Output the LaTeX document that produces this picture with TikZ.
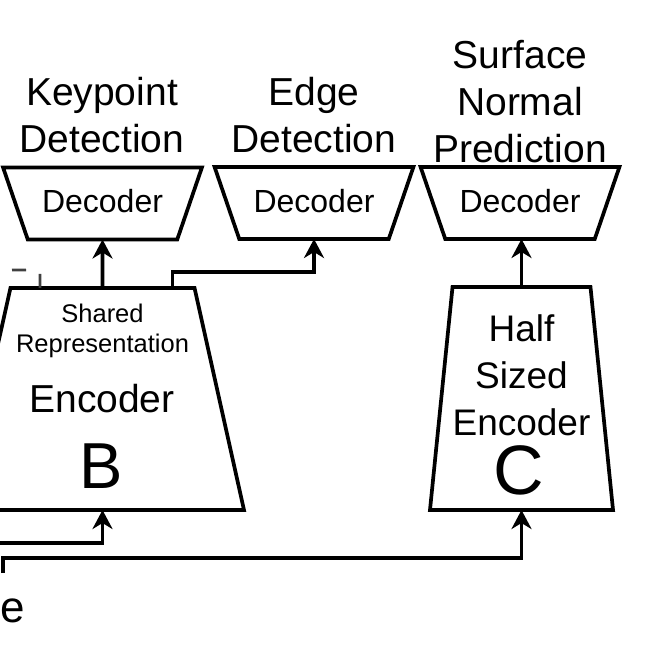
\documentclass[tikz,border=0pt]{standalone}
\usepackage{fontspec}
\setmainfont{Liberation Sans}
\usetikzlibrary{shapes.geometric,arrows.meta,calc}
\begin{document}
\begin{tikzpicture}[x=1pt,y=-1pt,
  shp/.style={draw=black, line width=3.7pt, line join=miter, trapezium,
    trapezium stretches=true, inner sep=0pt, outer sep=0pt},
  dec/.style={shp, shape border rotate=180, trapezium left angle=54.5,
    trapezium right angle=54.5, minimum width=199pt, minimum height=72pt,
    text height=23pt, text depth=5pt,
    font=\fontsize{32}{36}\selectfont},
  lbl/.style={inner sep=0pt, align=center},
  big/.style={font=\fontsize{39}{47}\selectfont},
  arr/.style={line width=3.7pt, -{Stealth[length=19pt,width=20pt,inset=6pt]}},
  dashline/.style={line width=2.6pt, black!75, dash pattern=on 14pt off 18pt}
  ]
\useasboundingbox (0,0) rectangle (655,655);
\clip (0,0) rectangle (655,655);

% decoders
\node[dec] (dec1) at (102.5,203.5) {Decoder};
\node[dec] (dec2) at (314,203) {Decoder};
\node[dec] (dec3) at (520,203) {Decoder};

% encoders
\node[shp, minimum width=283pt, minimum height=222pt,
  trapezium left angle=75.4, trapezium right angle=75.4] (encB) at (102.5,399) {\phantom{X}};
\node[shp, minimum width=183pt, minimum height=223pt,
  trapezium left angle=81, trapezium right angle=81] (encC) at (521.5,398.5) {\phantom{X}};

% task titles
\node[lbl, big, anchor=north] (kp) at (102,77) {Keypoint\\Detection};
\node[lbl, big, anchor=north] (ed) at (314,77) {Edge\\Detection};
\node[lbl, big, anchor=north] (sn) at (520,40) {Surface\\Normal\\Prediction};

% encoder texts
\node[lbl, anchor=north, font=\fontsize{25.5}{30}\selectfont] (sr) at (102.5,304) {Shared\\Representation};
\node[lbl, big, anchor=base] (encBt) at (102,412) {Encoder};
\node[lbl, anchor=base, font=\fontsize{65}{70}\selectfont] (lB) at (101.5,488) {B};
\node[lbl, anchor=north, font=\fontsize{37}{47}\selectfont] (hs) at (521.5,314) {Half\\Sized\\Encoder};
\node[lbl, anchor=base, font=\fontsize{70}{80}\selectfont] (lC) at (518.5,494) {C};
\node[lbl, anchor=base west, font=\fontsize{44}{50}\selectfont] (le) at (0,622) {e};

% connectors
\draw[arr] (encB.north) -- (dec1.south);
\draw[arr] ([xshift=70pt]encB.north) -- ++(0,-16) -| (dec2.south);
\draw[arr] (encC.north) -- (encC.north |- dec3.south);

\coordinate (inB) at (-10,543);
\coordinate (inC) at (3,573);
\coordinate (dl) at (-10,270);
\draw[arr] (inB) -| (encB.south);
\draw[arr] (inC) -- ++(0,-15) -| (encC.south);
\draw[dashline] ([xshift=-62.5pt]encB.north) -- ++(0,-18) -- (dl);
\end{tikzpicture}
\end{document}
